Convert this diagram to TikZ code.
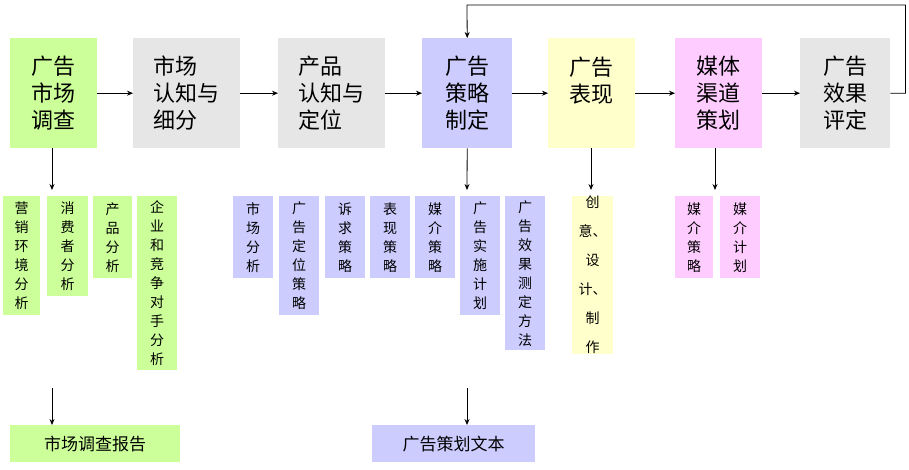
\documentclass[tikz,border=0pt]{standalone}
\usepackage{fontspec}
\setmainfont{Noto Sans CJK SC}
\usetikzlibrary{positioning,arrows.meta}
\definecolor{cgreen}{HTML}{CCFF99}
\definecolor{cgray}{HTML}{E6E6E6}
\definecolor{cblue}{HTML}{CCCCFF}
\definecolor{cyellow}{HTML}{FFFFCC}
\definecolor{cpink}{HTML}{FFCCFF}
\begin{document}
\begin{tikzpicture}[
    x=1pt, y=-1pt,
    stage/.style={anchor=north west, inner sep=2pt, align=left, minimum height=110pt,
      font=\fontsize{22}{27}\selectfont},
    item/.style={anchor=north west, inner sep=0pt, minimum width=40pt, align=center,
      font=\fontsize{14}{19}\selectfont},
    report/.style={anchor=north west, minimum width=#1, minimum height=37pt, inner sep=0pt,
      font=\fontsize{17}{20}\selectfont},
    arrow/.style={-{Stealth[length=6pt,width=5pt]}, thick}
]
    \useasboundingbox (0,0) rectangle (909,469);
    % top row
    \node[stage, fill=cgreen, minimum width=87pt] (survey) at (10,38) {广告\\市场\\调查};
    \node[stage, fill=cgray, minimum width=107pt] (segment) at (133,38) {市场\\认知与\\细分};
    \node[stage, fill=cgray, minimum width=107pt] (position) at (278,38) {产品\\认知与\\定位};
    \node[stage, fill=cblue, minimum width=90pt] (strategy) at (422,38) {广告\\策略\\制定};
    \node[stage, fill=cyellow, minimum width=87pt] (express) at (548,38) {广告\\表现\\ };
    \node[stage, fill=cpink, minimum width=87pt] (media) at (675,38) {媒体\\渠道\\策划};
    \node[stage, fill=cgray, minimum width=90pt] (effect) at (800,38) {广告\\效果\\评定};
    \draw[arrow] (survey) -- (segment);
    \draw[arrow] (segment) -- (position);
    \draw[arrow] (position) -- (strategy);
    \draw[arrow] (strategy) -- (express);
    \draw[arrow] (express) -- (media);
    \draw[arrow] (media) -- (effect);
    \draw[arrow] (effect.east) -- ++(15,0) |- (467,5) -- (strategy.north);
    % sub items
    \node[item, fill=cgreen, minimum width=37pt, minimum height=119pt] (env) at (3,196) {营\\销\\环\\境\\分\\析};
    \node[item, fill=cgreen, minimum width=41pt, minimum height=100pt] (consumer) at (47,196) {消\\费\\者\\分\\析};
    \node[item, fill=cgreen, minimum width=39pt, minimum height=82pt] (product) at (93,196) {产\\品\\分\\析};
    \node[item, fill=cgreen, minimum height=174pt] (rival) at (137,196) {企\\业\\和\\竞\\争\\对\\手\\分\\析};
    \node[item, fill=cblue, minimum height=82pt] (market) at (233,196) {市\\场\\分\\析};
    \node[item, fill=cblue, minimum height=119pt] (locate) at (279,196) {广\\告\\定\\位\\策\\略};
    \node[item, fill=cblue, minimum height=82pt] (appeal) at (325,196) {诉\\求\\策\\略};
    \node[item, fill=cblue, minimum height=82pt] (show) at (370,196) {表\\现\\策\\略};
    \node[item, fill=cblue, minimum height=82pt] (medium) at (415,196) {媒\\介\\策\\略};
    \node[item, fill=cblue, minimum height=119pt] (plan) at (460,196) {广\\告\\实\\施\\计\\划};
    \node[item, fill=cblue, minimum height=154pt] (measure) at (505,196) {广\\告\\效\\果\\测\\定\\方\\法};
    \node[item, fill=cyellow, minimum width=41pt, minimum height=154pt, font=\fontsize{14}{29}\selectfont] (create) at (572,196) {创\\意、\\设\\计、\\制\\作};
    \node[item, fill=cpink, minimum width=38pt, minimum height=82pt] (mstrat) at (675,196) {媒\\介\\策\\略};
    \node[item, fill=cpink, minimum height=82pt] (mplan) at (720,196) {媒\\介\\计\\划};
    \coordinate (survey-in) at (52,190);
    \coordinate (strategy-in) at (467,190);
    \coordinate (express-in) at (591,190);
    \coordinate (media-in) at (715,190);
    \draw[arrow] (survey.south -| survey-in) -- (survey-in);
    \draw[arrow] (strategy.south) -- (strategy-in);
    \draw[arrow] (express.south -| express-in) -- (express-in);
    \draw[arrow] (media.south -| media-in) -- (media-in);
    % reports
    \node[report=170pt, fill=cgreen] (sreport) at (10,425) {市场调查报告};
    \node[report=163pt, fill=cblue] (ptext) at (372,425) {广告策划文本};
    \coordinate (sreport-out) at (52,388);
    \coordinate (ptext-out) at (467,388);
    \draw[arrow] (sreport-out) -- (sreport.north -| sreport-out);
    \draw[arrow] (ptext-out) -- (ptext.north -| ptext-out);
\end{tikzpicture}
\end{document}
